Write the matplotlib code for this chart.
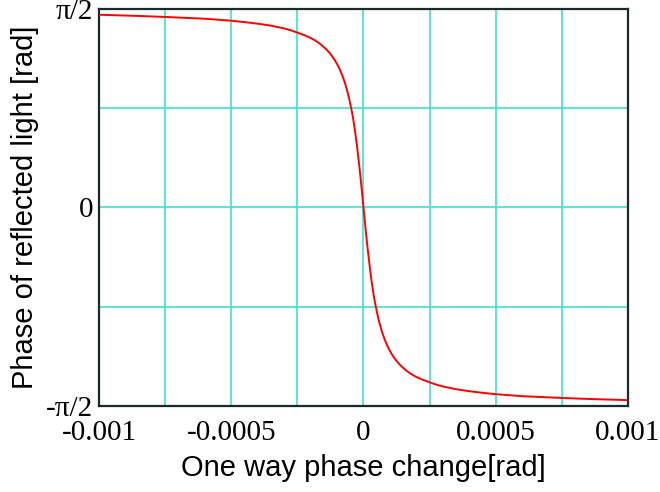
import numpy as np
import matplotlib.pyplot as plt
from matplotlib.ticker import MultipleLocator

# one way phase change [rad]
phase_change = np.array([-10, -8.5, -7.5, -6.5, -6, -5.5, -5, -4.5, -4, -3.5, -3, -2.75, -2.5,
                         -2.25, -2.0, -1.9, -1.75, -1.6, -1.5, -1.4, -1.25, -1.1, -1.0,
                         -0.9, -0.8, -0.7, -0.6, -0.55, -0.5, -0.45, -0.4, -0.35, -0.3,
                         -0.25, -0.2, -0.15, -0.1, -0.05, 0,
                         0.05, 0.1, 0.15, 0.2, 0.25, 0.3, 0.35, 0.4, 0.45, 0.5, 0.55, 0.6,
                         0.7, 0.8, 0.9, 1.0, 1.1, 1.25, 1.4, 1.5, 1.6, 1.75, 1.9, 2.0, 2.25,
                         2.5, 2.75, 3, 3.5, 4, 4.5, 5, 5.5, 6, 6.5, 7.5, 8.5, 10]) * 1e-4
# reflected phase in units of pi/2
phase_frac = np.array([0.971, 0.965, 0.960, 0.954, 0.951, 0.946, 0.941, 0.934, 0.926, 0.916, 0.902, 0.893, 0.881,
                       0.869, 0.854, 0.847, 0.835, 0.820, 0.808, 0.796, 0.774, 0.746, 0.723,
                       0.697, 0.665, 0.627, 0.580, 0.553, 0.522, 0.490, 0.455, 0.411, 0.365,
                       0.314, 0.257, 0.199, 0.136, 0.068, 0.0,
                       -0.068, -0.136, -0.199, -0.257, -0.314, -0.365, -0.411, -0.455, -0.490, -0.522, -0.553, -0.580,
                       -0.627, -0.665, -0.697, -0.723, -0.746, -0.774, -0.796, -0.808, -0.820, -0.835, -0.847, -0.854, -0.869,
                       -0.881, -0.893, -0.902, -0.916, -0.926, -0.934, -0.941, -0.946, -0.951, -0.954, -0.960, -0.965, -0.971])
reflected_phase = phase_frac * np.pi / 2

x_ticks = [-0.001, -0.0005, 0, 0.0005, 0.001]
x_ticklabels = ['-0.001', '-0.0005', '0', '0.0005', '0.001']
y_ticks = [-np.pi / 2, 0, np.pi / 2]
y_ticklabels = ['-\u03c0/2', '0', '\u03c0/2']

grid_color = '#40E0D0'

fig = plt.figure(figsize=(6.6, 4.92), dpi=100)
ax = fig.add_axes([0.15, 0.175, 0.8015, 0.8067])

ax.plot(phase_change, reflected_phase, color='red', lw=1.4, zorder=3)

ax.set_xlim(-0.001, 0.001)
ax.set_ylim(-np.pi / 2, np.pi / 2)

ax.set_xticks(x_ticks)
ax.set_xticklabels(x_ticklabels)
ax.set_yticks(y_ticks)
ax.set_yticklabels(y_ticklabels)
ax.xaxis.set_minor_locator(MultipleLocator(0.00025))
ax.yaxis.set_minor_locator(MultipleLocator(np.pi / 4))

ax.grid(which='both', color=grid_color, lw=1.2)
ax.tick_params(which='both', length=0)
ax.tick_params(axis='x', pad=10)
ax.tick_params(axis='y', pad=4)
for lab in ax.get_xticklabels() + ax.get_yticklabels():
    lab.set_fontfamily('Liberation Serif')
    lab.set_fontsize(21)

for sp in ax.spines.values():
    sp.set_color('#1a2a2a')
    sp.set_linewidth(1.6)

ax.set_xlabel('One way phase change[rad]', fontsize=21, family='Liberation Sans', labelpad=6)
ax.set_ylabel('Phase of reflected light [rad]', fontsize=21, family='Liberation Sans', labelpad=5)

fig.savefig('out.png', dpi=100)
